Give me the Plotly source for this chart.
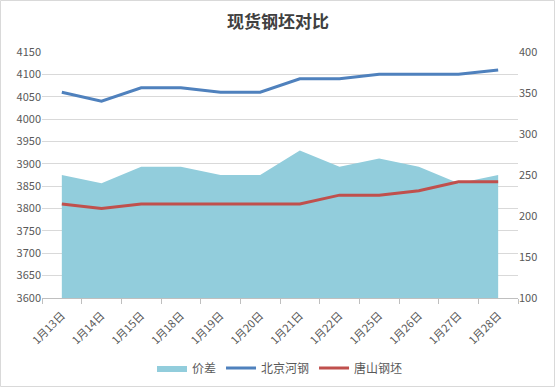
import plotly.graph_objects as go

categories = ["1月13日", "1月14日", "1月15日", "1月18日", "1月19日", "1月20日",
              "1月21日", "1月22日", "1月25日", "1月26日", "1月27日", "1月28日"]
beijing = [4060, 4040, 4070, 4070, 4060, 4060, 4090, 4090, 4100, 4100, 4100, 4110]
tangshan = [3810, 3800, 3810, 3810, 3810, 3810, 3810, 3830, 3830, 3840, 3860, 3860]
spread = [250, 240, 260, 260, 250, 250, 280, 260, 270, 260, 240, 250]

left_ticks = list(range(3600, 4151, 50))
right_ticks = list(range(100, 401, 50))

FONT = "Microsoft YaHei, Noto Sans CJK SC, sans-serif"
TXT = "#595959"

fig = go.Figure()
fig.add_trace(go.Scatter(x=categories, y=spread, name="价差", yaxis="y",
                         mode="lines", line=dict(width=0, color="#92CDDC"),
                         fill="tozeroy", fillcolor="#92CDDC"))
fig.add_trace(go.Scatter(x=categories, y=beijing, name="北京河钢", yaxis="y2",
                         mode="lines", line=dict(width=3, color="#4F81BD")))
fig.add_trace(go.Scatter(x=categories, y=tangshan, name="唐山钢坯", yaxis="y2",
                         mode="lines", line=dict(width=3, color="#C0504D")))

W, H = 556, 388
ml, mr, mt, mb = 42, 38, 52, 90
pw, ph = W - ml - mr, H - mt - mb

fig.update_layout(
    width=W, height=H,
    margin=dict(l=ml, r=mr, t=mt, b=mb, pad=0, autoexpand=False),
    paper_bgcolor="white", plot_bgcolor="white",
    font=dict(family=FONT, size=11, color=TXT),
    title=dict(text="<b>现货钢坯对比</b>", x=0.5, xanchor="center", y=1 - 22 / H,
               yanchor="middle", font=dict(family=FONT, size=17, color="#404040")),
    showlegend=True,
    legend=dict(orientation="h", x=0.5, xanchor="center", y=-(368 - mt - ph) / ph,
                yanchor="middle", font=dict(size=12, color=TXT), traceorder="normal",
                itemwidth=30, tracegroupgap=0),
    xaxis=dict(type="category", range=[-0.5, len(categories) - 0.5],
               tickangle=-45, tickson="boundaries", ticks="outside", ticklen=5,
               tickcolor="#BFBFBF", showline=True, linecolor="#BFBFBF",
               ticklabelstandoff=6,
               showgrid=False, automargin=False, tickfont=dict(size=11, color=TXT)),
    yaxis=dict(side="right", range=[100, 400], tickvals=right_ticks,
               showgrid=False, zeroline=False, ticks="", ticklen=0, automargin=False,
               tickfont=dict(size=11, color=TXT)),
    yaxis2=dict(side="left", overlaying="y", range=[3600, 4150], tickvals=left_ticks,
                showgrid=True, gridcolor="#D9D9D9", gridwidth=1, zeroline=False,
                ticks="", automargin=False, tickfont=dict(size=11, color=TXT)),
    shapes=[dict(type="rect", xref="paper", yref="paper",
                 x0=-(ml - 0.5) / pw, x1=1 + (mr - 1.5) / pw,
                 y0=-(mb - 1.5) / ph, y1=1 + (mt - 0.5) / ph,
                 line=dict(color="#D9D9D9", width=1), layer="below")],
)

fig.write_html("out.html", config={"displayModeBar": False},
               post_script="document.body.style.margin='0';document.body.style.overflow='hidden';")
